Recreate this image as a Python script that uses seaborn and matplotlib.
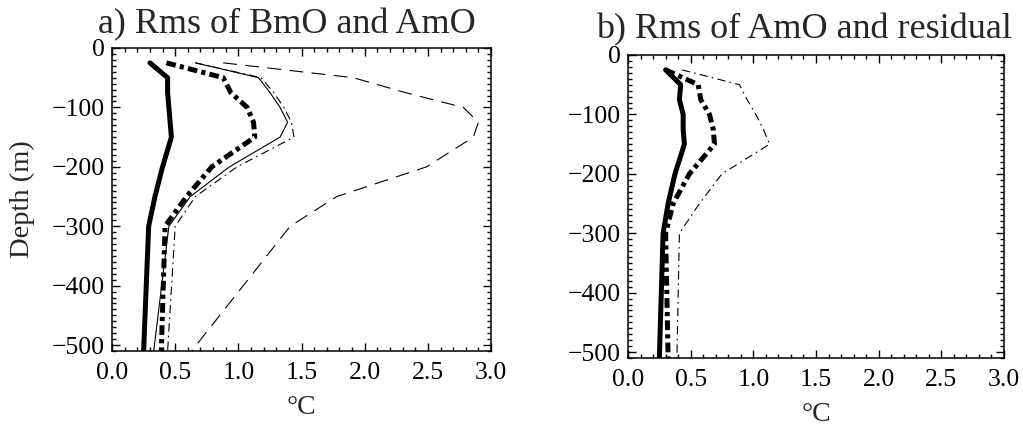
import matplotlib
matplotlib.use("Agg")
import matplotlib.pyplot as plt
from matplotlib.ticker import MultipleLocator, FormatStrFormatter
import seaborn as sns

# depth levels of the profiles (m)
depth = [-25, -50, -75, -100, -125, -150, -200, -250, -300, -510]

# a) Rms of BmO and AmO
a_thick_solid = [0.30, 0.44, 0.44, 0.45, 0.46, 0.47, 0.40, 0.34, 0.29, 0.25]
a_thick_dashdot = [0.43, 0.88, 0.94, 1.07, 1.12, 1.13, 0.79, 0.59, 0.42, 0.39]
a_thin_solid = [0.66, 1.16, 1.25, 1.33, 1.39, 1.33, 0.93, 0.62, 0.45, 0.33]
a_thin_dashdot = [0.66, 1.18, 1.28, 1.36, 1.42, 1.44, 0.99, 0.66, 0.50, 0.44]
a_thin_dashed = [0.88, 1.91, 2.32, 2.78, 2.90, 2.86, 2.49, 1.78, 1.41, 0.63]

# b) Rms of AmO and residual
b_thick_solid = [0.30, 0.42, 0.41, 0.44, 0.44, 0.45, 0.375, 0.32, 0.28, 0.25]
b_thick_dashdot = [0.30, 0.56, 0.58, 0.65, 0.68, 0.69, 0.49, 0.36, 0.30, 0.32]
b_thin_dashdot = [0.43, 0.89, 0.95, 1.02, 1.08, 1.13, 0.75, 0.57, 0.41, 0.39]

sns.set_style("ticks")
plt.rcParams["font.family"] = ["Liberation Serif", "DejaVu Serif"]
plt.rcParams["lines.scale_dashes"] = False

thick_dashdot = (0, (7, 3, 3, 3))
thin_dashdot = (0, (6, 3, 1.2, 3))
thin_dashed = (0, (10, 6))


def profile(ax, x, lw, ls="-"):
    sns.lineplot(x=x, y=depth, ax=ax, sort=False, estimator=None,
                 color="k", lw=lw, linestyle=ls)


def style_axes(ax):
    ax.set_xlim(0, 3)
    ax.set_ylim(-510, 0)
    ax.xaxis.set_major_locator(MultipleLocator(0.5))
    ax.xaxis.set_minor_locator(MultipleLocator(0.1))
    ax.xaxis.set_major_formatter(FormatStrFormatter("%.1f"))
    ax.yaxis.set_major_locator(MultipleLocator(100))
    ax.yaxis.set_minor_locator(MultipleLocator(10))
    ax.tick_params(which="both", direction="in", top=True, right=True,
                   width=1, labelsize=18.5, colors="k")
    ax.tick_params(which="major", length=6)
    ax.tick_params(which="minor", length=3)
    ax.tick_params(axis="x", pad=8)
    ax.tick_params(axis="y", pad=5)
    for s in ax.spines.values():
        s.set_linewidth(1.1)
        s.set_color("k")
    ax.set_xlabel("°C", fontsize=20, labelpad=8)


fig = plt.figure(figsize=(10.23, 4.30), dpi=100)
ax_a = fig.add_axes([0.1095, 0.1837, 0.3705, 0.7047])
ax_b = fig.add_axes([0.6139, 0.1674, 0.3675, 0.7047])

profile(ax_a, a_thin_dashed, 0.8, thin_dashed)
profile(ax_a, a_thin_dashdot, 0.8, thin_dashdot)
profile(ax_a, a_thin_solid, 0.8)
profile(ax_a, a_thick_dashdot, 3.6, thick_dashdot)
profile(ax_a, a_thick_solid, 3.6)

profile(ax_b, b_thin_dashdot, 0.8, thin_dashdot)
profile(ax_b, b_thick_dashdot, 3.6, thick_dashdot)
profile(ax_b, b_thick_solid, 3.6)

style_axes(ax_a)
style_axes(ax_b)
ax_a.set_ylabel("Depth (m)", fontsize=20.5, labelpad=12)
ax_b.set_ylabel("")

fig.text(287 / 1023, 1 - 33 / 430, "a) Rms of BmO and AmO", ha="center",
         va="baseline", fontsize=26)
fig.text(804 / 1023, 1 - 38 / 430, "b) Rms of AmO and residual", ha="center",
         va="baseline", fontsize=26)

fig.savefig("out.png", dpi=100)
